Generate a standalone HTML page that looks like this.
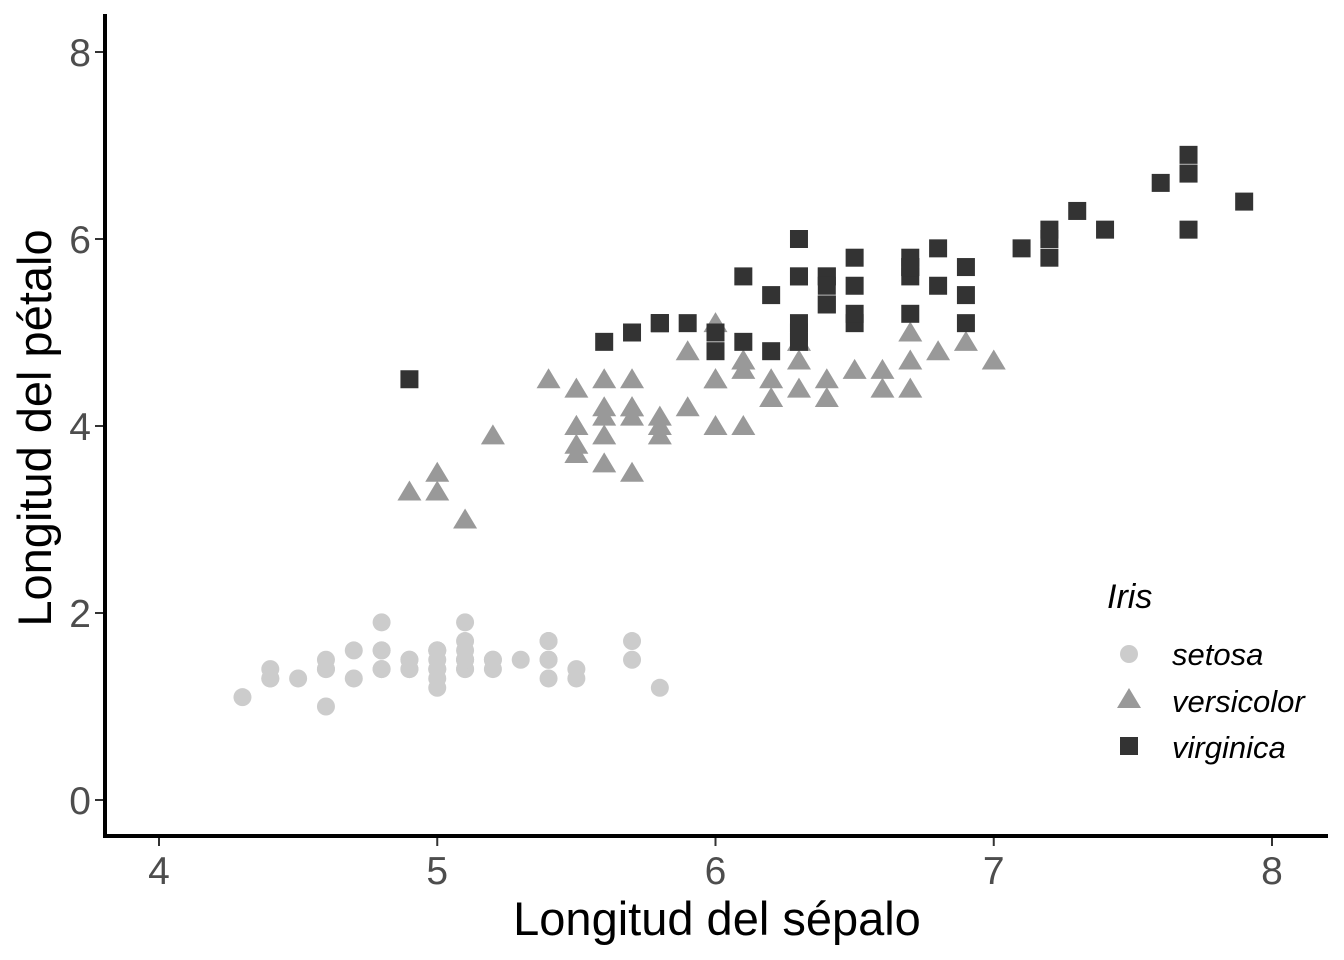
<!DOCTYPE html>
<html><head><meta charset="utf-8"><style>
body{margin:0;background:#fff}
svg{display:block;font-family:"Liberation Sans",Arial,sans-serif}
</style></head><body>
<svg id="chart" width="1344" height="960" viewBox="0 0 1344 960">
<g id="marks"></g>
<g id="axes"></g>
<text x="717" y="935" font-size="47" text-anchor="middle" fill="#000">Longitud del sépalo</text>
<text transform="translate(51,428) rotate(-90)" font-size="47" text-anchor="middle" fill="#000">Longitud del pétalo</text>
<g>
<text x="1107" y="608" font-size="34" font-style="italic">Iris</text>
<circle cx="1129" cy="654" r="9" fill="#cccccc"/>
<text x="1172" y="665" font-size="31" font-style="italic">setosa</text>
<polygon points="1129,688 1141,708 1117,708" fill="#999999"/>
<text x="1172" y="712" font-size="31" font-style="italic">versicolor</text>
<rect x="1120" y="737" width="18" height="18" fill="#333333"/>
<text x="1172" y="758" font-size="31" font-style="italic">virginica</text>
</g>
</svg>
<script>
const setosaX=[5.1,4.9,4.7,4.6,5.0,5.4,4.6,5.0,4.4,4.9,5.4,4.8,4.8,4.3,5.8,5.7,5.4,5.1,5.7,5.1,5.4,5.1,4.6,5.1,4.8,5.0,5.0,5.2,5.2,4.7,4.8,5.4,5.2,5.5,4.9,5.0,5.5,4.9,4.4,5.1,5.0,4.5,4.4,5.0,5.1,4.8,5.1,4.6,5.3,5.0];
const setosaY=[1.4,1.4,1.3,1.5,1.4,1.7,1.4,1.5,1.4,1.5,1.5,1.6,1.4,1.1,1.2,1.5,1.3,1.4,1.7,1.5,1.7,1.5,1.0,1.7,1.9,1.6,1.6,1.5,1.4,1.6,1.6,1.5,1.5,1.4,1.5,1.2,1.3,1.4,1.3,1.5,1.3,1.3,1.3,1.6,1.9,1.4,1.6,1.4,1.5,1.4];
const versiX=[7.0,6.4,6.9,5.5,6.5,5.7,6.3,4.9,6.6,5.2,5.0,5.9,6.0,6.1,5.6,6.7,5.6,5.8,6.2,5.6,5.9,6.1,6.3,6.1,6.4,6.6,6.8,6.7,6.0,5.7,5.5,5.5,5.8,6.0,5.4,6.0,6.7,6.3,5.6,5.5,5.5,6.1,5.8,5.0,5.6,5.7,5.7,6.2,5.1,5.7];
const versiY=[4.7,4.5,4.9,4.0,4.6,4.5,4.7,3.3,4.6,3.9,3.5,4.2,4.0,4.7,3.6,4.4,4.5,4.1,4.5,3.9,4.8,4.0,4.9,4.7,4.3,4.4,4.8,5.0,4.5,3.5,3.8,3.7,3.9,5.1,4.5,4.5,4.7,4.4,4.1,4.0,4.4,4.6,4.0,3.3,4.2,4.2,4.2,4.3,3.0,4.1];
const virgX=[6.3,5.8,7.1,6.3,6.5,7.6,4.9,7.3,6.7,7.2,6.5,6.4,6.8,5.7,5.8,6.4,6.5,7.7,7.7,6.0,6.9,5.6,7.7,6.3,6.7,7.2,6.2,6.1,6.4,7.2,7.4,7.9,6.4,6.3,6.1,7.7,6.3,6.4,6.0,6.9,6.7,6.9,5.8,6.8,6.7,6.7,6.3,6.5,6.2,5.9];
const virgY=[6.0,5.1,5.9,5.6,5.8,6.6,4.5,6.3,5.8,6.1,5.1,5.3,5.5,5.0,5.1,5.3,5.5,6.7,6.9,5.0,5.7,4.9,6.7,4.9,5.7,6.0,4.8,4.9,5.6,5.8,6.1,6.4,5.6,5.1,5.6,6.1,5.6,5.5,4.8,5.4,5.6,5.1,5.1,5.9,5.7,5.2,5.0,5.2,5.4,5.1];
const xTicks=[4,5,6,7,8];
const yTicks=[0,2,4,6,8];
const NS="http://www.w3.org/2000/svg";
const sx=v=>159+(v-4)*278.25;
const sy=v=>800-v*93.5;
const marks=document.getElementById('marks');
const axes=document.getElementById('axes');
function mk(tag,attrs,parent){const e=document.createElementNS(NS,tag);for(const k in attrs)e.setAttribute(k,attrs[k]);parent.appendChild(e);return e;}
setosaX.forEach((x,i)=>{const e=mk('circle',{cx:sx(x),cy:sy(setosaY[i]),r:9,fill:'#cccccc'},marks);

});
versiX.forEach((x,i)=>{const cx=sx(x),cy=sy(versiY[i]);const e=mk('polygon',{points:`${cx},${cy-11} ${cx+12},${cy+9} ${cx-12},${cy+9}`,fill:'#999999'},marks);

});
virgX.forEach((x,i)=>{const e=mk('rect',{x:sx(x)-9,y:sy(virgY[i])-9,width:18,height:18,fill:'#333333'},marks);

});
const xl=mk('line',{x1:104,y1:836,x2:1328,y2:836,stroke:'#000','stroke-width':4},axes);


const yl=mk('line',{x1:105,y1:14,x2:105,y2:838,stroke:'#000','stroke-width':4},axes);


xTicks.forEach(t=>{mk('line',{x1:sx(t),y1:838,x2:sx(t),y2:846,stroke:'#333','stroke-width':2},axes);
const e=mk('text',{x:sx(t),y:884,'font-size':39,'text-anchor':'middle',fill:'#4d4d4d'},axes);e.textContent=t;

});
yTicks.forEach(t=>{mk('line',{x1:95,y1:sy(t),x2:103,y2:sy(t),stroke:'#333','stroke-width':2},axes);
const e=mk('text',{x:91,y:sy(t)+14,'font-size':39,'text-anchor':'end',fill:'#4d4d4d'},axes);e.textContent=t;

});
</script>
</body></html>
